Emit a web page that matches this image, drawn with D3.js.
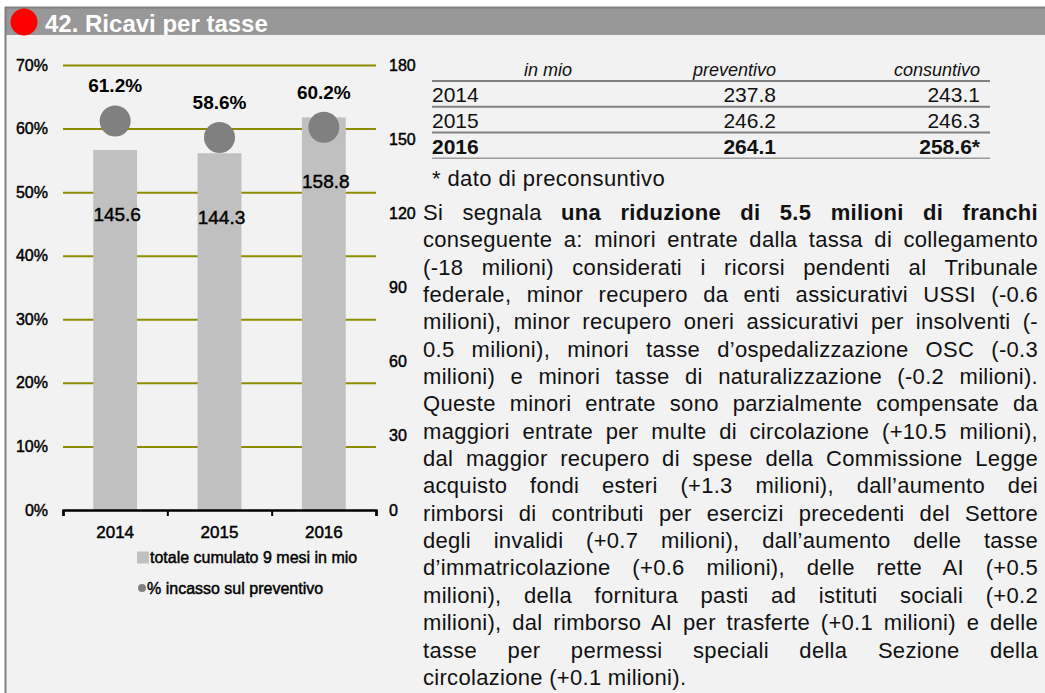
<!DOCTYPE html>
<html lang="it">
<head>
    <meta charset="UTF-8">
    <title>42. Ricavi per tasse</title>
    <style>
        body {
            margin: 0;
            background: #ffffff;
            font-family: "Liberation Sans", Arial, sans-serif;
        }
        #page {
            position: relative;
            width: 1045px;
            height: 693px;
            overflow: hidden;
        }
        #chart {
            position: absolute;
            left: 0;
            top: 0;
        }
        #note {
            position: absolute;
            left: 423px;
            top: 199px;
            width: 615px;
            font-size: 22px;
            line-height: 27.35px;
            letter-spacing: 0.3px;
            color: #111;
        }
        #note div {
            white-space: nowrap;
            text-align: justify;
            text-align-last: justify;
        }
        #note div.last {
            text-align-last: left;
        }
        .axis path { display: none; }
        .axis text { fill: #000; }
        .heavy { stroke: #000; stroke-width: 0.45px; }
    </style>
</head>
<body>
    <div id="page">
        <svg id="chart" width="1045" height="693"></svg>
        <div id="note"></div>
    </div>

    <script src="https://d3js.org/d3.v7.min.js"></script>
    <script>
        // chart data
        const years = ['2014', '2015', '2016'];
        const totals = [145.6, 144.3, 158.8];       // totale cumulato 9 mesi in mio
        const pctIncasso = [61.2, 58.6, 60.2];      // % incasso sul preventivo
        const pctTicks = [0, 10, 20, 30, 40, 50, 60, 70];
        const valTicks = [0, 30, 60, 90, 120, 150, 180];
        const legendLabels = ['totale cumulato 9 mesi in mio', '% incasso sul preventivo'];

        // table data
        const tableHeader = ['in mio', 'preventivo', 'consuntivo'];
        const preventivo = ['237.8', '246.2', '264.1'];
        const consuntivo = ['243.1', '246.3', '258.6*'];
        const footnote = '* dato di preconsuntivo';

        const title = '42. Ricavi per tasse';

        const noteLines = [
            'Si segnala <b>una riduzione di 5.5 milioni di franchi</b>',
            'conseguente a: minori entrate dalla tassa di collegamento',
            '(-18 milioni) considerati i ricorsi pendenti al Tribunale',
            'federale, minor recupero da enti assicurativi USSI (-0.6',
            'milioni), minor recupero oneri assicurativi per insolventi (-',
            '0.5 milioni), minori tasse d’ospedalizzazione OSC (-0.3',
            'milioni) e minori tasse di naturalizzazione (-0.2 milioni).',
            'Queste minori entrate sono parzialmente compensate da',
            'maggiori entrate per multe di circolazione (+10.5 milioni),',
            'dal maggior recupero di spese della Commissione Legge',
            'acquisto fondi esteri (+1.3 milioni), dall’aumento dei',
            'rimborsi di contributi per esercizi precedenti del Settore',
            'degli invalidi (+0.7 milioni), dall’aumento delle tasse',
            'd’immatricolazione (+0.6 milioni), delle rette AI (+0.5',
            'milioni), della fornitura pasti ad istituti sociali (+0.2',
            'milioni), dal rimborso AI per trasferte (+0.1 milioni) e delle',
            'tasse per permessi speciali della Sezione della',
            'circolazione (+0.1 milioni).'
        ];

        const svg = d3.select('#chart');
        const font = '"Liberation Sans", Arial, sans-serif';

        // panel + header
        svg.append('rect').attr('x', 5).attr('y', 7).attr('width', 1040).attr('height', 686).attr('fill', '#f2f2f2');
        svg.append('clipPath').attr('id', 'head-clip')
            .append('rect').attr('x', 5).attr('y', 7).attr('width', 1040).attr('height', 28);
        svg.append('rect').attr('x', 5).attr('y', 7).attr('width', 1040).attr('height', 28).attr('fill', '#989898');
        svg.append('line').attr('x1', 5).attr('x2', 1045).attr('y1', 7.5).attr('y2', 7.5)
            .attr('stroke', '#7f7f7f').attr('stroke-width', 2);
        svg.append('line').attr('x1', 5.5).attr('x2', 5.5).attr('y1', 7).attr('y2', 693)
            .attr('stroke', '#7f7f7f').attr('stroke-width', 2);
        svg.append('circle').attr('cx', 24).attr('cy', 22).attr('r', 13.5).attr('fill', '#ff0000');
        svg.append('text').attr('clip-path', 'url(#head-clip)')
            .attr('x', 45).attr('y', 32)
            .attr('font-family', font).attr('font-size', 24).attr('font-weight', 'bold')
            .attr('fill', '#ffffff').text(title);

        // scales
        const plotLeft = 63, plotRight = 376, plotTop = 65, plotBottom = 510;
        const x = d3.scaleBand().domain(years).range([plotLeft, plotRight]).paddingInner(0.58).paddingOuter(0.29);
        const xTicks = d3.scaleLinear().domain([0, years.length]).range([plotLeft, plotRight]);
        const yPct = d3.scaleLinear().domain([0, 70]).range([plotBottom, plotTop]);
        const yVal = d3.scaleLinear().domain([0, 180]).range([plotBottom, plotTop]);

        // gridlines
        const grid = svg.append('g').attr('class', 'axis')
            .attr('transform', `translate(${plotLeft},0)`)
            .call(d3.axisLeft(yPct).tickValues(pctTicks.filter(d => d > 0)).tickSize(-(plotRight - plotLeft)).tickFormat(''));
        grid.selectAll('line').attr('stroke', '#8c8c00').attr('stroke-width', 2);

        // bars
        svg.selectAll('.bar')
            .data(totals)
            .enter().append('rect')
            .attr('class', 'bar')
            .attr('x', (d, i) => x(years[i]))
            .attr('y', d => yVal(d))
            .attr('width', x.bandwidth())
            .attr('height', d => yVal(0) - yVal(d))
            .attr('fill', '#c0c0c0');

        // x axis line + ticks
        const xAxis = svg.append('g').attr('transform', `translate(0,${plotBottom})`)
            .call(d3.axisBottom(xTicks).tickValues(d3.range(years.length + 1)).tickSize(6).tickFormat(''));
        xAxis.select('.domain').attr('stroke', '#000').attr('stroke-width', 2.5);
        xAxis.selectAll('line').attr('stroke', '#000').attr('stroke-width', 2);

        const xLabels = svg.append('g').attr('class', 'axis').attr('transform', `translate(0,${plotBottom})`)
            .call(d3.axisBottom(x).tickSize(0).tickPadding(16));
        xLabels.selectAll('text').attr('class', 'heavy').attr('font-family', font).attr('font-size', 17);

        // left axis
        const yLeft = svg.append('g').attr('class', 'axis').attr('transform', 'translate(50,0)')
            .call(d3.axisLeft(yPct).tickValues(pctTicks).tickSize(0).tickPadding(2).tickFormat(d => d + '%'));
        yLeft.selectAll('text').attr('class', 'heavy').attr('font-family', font).attr('font-size', 16);

        // right axis
        const yRight = svg.append('g').attr('class', 'axis').attr('transform', 'translate(387,0)')
            .call(d3.axisRight(yVal).tickValues(valTicks).tickSize(0).tickPadding(2));
        yRight.selectAll('text').attr('class', 'heavy').attr('font-family', font).attr('font-size', 16);

        // bar labels
        svg.selectAll('.bar-label')
            .data(totals)
            .enter().append('text')
            .attr('class', 'heavy')
            .attr('x', (d, i) => x(years[i]) + x.bandwidth() / 2 + 2)
            .attr('y', d => yVal(d) + 64)
            .attr('text-anchor', 'middle').attr('dominant-baseline', 'central')
            .attr('font-family', font).attr('font-size', 19).attr('fill', '#000')
            .text(d => d.toFixed(1));

        // dots
        svg.selectAll('.dot')
            .data(pctIncasso)
            .enter().append('circle')
            .attr('class', 'dot')
            .attr('cx', (d, i) => x(years[i]) + x.bandwidth() / 2)
            .attr('cy', d => yPct(d))
            .attr('r', 15.5)
            .attr('fill', '#808080');

        svg.selectAll('.dot-label')
            .data(pctIncasso)
            .enter().append('text')
            .attr('class', 'dot-label')
            .attr('x', (d, i) => x(years[i]) + x.bandwidth() / 2)
            .attr('y', d => yPct(d) - 35)
            .attr('text-anchor', 'middle').attr('dominant-baseline', 'central')
            .attr('font-family', font).attr('font-size', 19).attr('font-weight', 'bold').attr('fill', '#000')
            .text(d => d.toFixed(1) + '%');

        // legend
        const legend = svg.append('g').attr('font-family', font).attr('font-size', 16).attr('fill', '#000');
        legend.append('rect').attr('x', 137).attr('y', 551.5).attr('width', 12).attr('height', 12).attr('fill', '#c0c0c0');
        legend.append('text').attr('class', 'heavy').attr('x', 150).attr('y', 557.5)
            .attr('dominant-baseline', 'central').text(legendLabels[0]);
        legend.append('circle').attr('cx', 142).attr('cy', 588).attr('r', 4).attr('fill', '#808080');
        legend.append('text').attr('class', 'heavy').attr('x', 147).attr('y', 588)
            .attr('dominant-baseline', 'central').text(legendLabels[1]);

        // table
        const table = svg.append('g').attr('font-family', font).attr('fill', '#111');
        const tLeft = 432, tRight = 990;
        const colPrev = 776, colCons = 980;
        const rowY = d3.scaleBand().domain(years).range([81, 158.3]);

        table.append('text').attr('x', 548).attr('y', 76).attr('text-anchor', 'middle')
            .attr('font-size', 18).attr('font-style', 'italic').text(tableHeader[0]);
        table.append('text').attr('x', colPrev).attr('y', 76).attr('text-anchor', 'end')
            .attr('font-size', 18).attr('font-style', 'italic').text(tableHeader[1]);
        table.append('text').attr('x', colCons).attr('y', 76).attr('text-anchor', 'end')
            .attr('font-size', 18).attr('font-style', 'italic').text(tableHeader[2]);

        const lineYs = [81].concat(years.map(y => rowY(y) + rowY.step()));
        table.selectAll('.rule')
            .data(lineYs)
            .enter().append('line')
            .attr('x1', tLeft).attr('x2', tRight)
            .attr('y1', d => d).attr('y2', d => d)
            .attr('stroke', (d, i) => i === lineYs.length - 1 ? '#9a9a9a' : '#7f7f7f')
            .attr('stroke-width', (d, i) => i === lineYs.length - 1 ? 1.5 : 2);

        const rows = table.selectAll('.row')
            .data(years)
            .enter().append('g')
            .attr('class', 'row')
            .attr('font-size', 21)
            .attr('font-weight', (d, i) => i === years.length - 1 ? 'bold' : 'normal')
            .attr('transform', d => `translate(0,${rowY(d) + rowY.step() / 2 + 1})`);
        rows.append('text').attr('x', tLeft).attr('dominant-baseline', 'central').text(d => d);
        rows.append('text').attr('x', colPrev).attr('text-anchor', 'end').attr('dominant-baseline', 'central')
            .text((d, i) => preventivo[i]);
        rows.append('text').attr('x', colCons).attr('text-anchor', 'end').attr('dominant-baseline', 'central')
            .text((d, i) => consuntivo[i]);

        table.append('text').attr('x', tLeft).attr('y', 178).attr('dominant-baseline', 'central')
            .attr('font-size', 22).attr('letter-spacing', 0.4).text(footnote);

        // text block, one line per div so breaks match the original
        d3.select('#note').selectAll('div')
            .data(noteLines)
            .enter().append('div')
            .attr('class', (d, i) => i === noteLines.length - 1 ? 'last' : null)
            .html(d => d);
    </script>
</body>
</html>
